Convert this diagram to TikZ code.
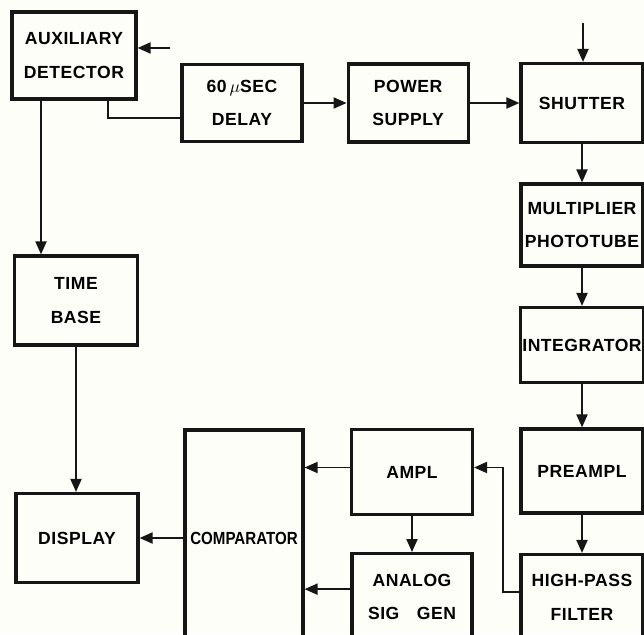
\documentclass[tikz,border=0pt]{standalone}
\usepackage{fontspec}
\setsansfont{Liberation Sans}[LetterSpace=3]
\newfontfamily\narrowsf{Liberation Sans}[FakeStretch=0.86]
\usetikzlibrary{arrows.meta,positioning}
\definecolor{paper}{RGB}{254,254,248}
\definecolor{ink}{RGB}{22,22,22}

\begin{document}
\begin{tikzpicture}[x=0.02cm,y=-0.02cm,
  blk/.style={draw=ink,line width=1.8pt,align=center,inner sep=1pt,
    minimum width=2.44cm,minimum height=1.6cm,
    font=\sffamily\bfseries\fontsize{10}{19}\selectfont},
  a/.style={draw=ink,line width=1.1pt,-{Triangle[length=2.6mm,width=2.2mm]}},
  l/.style={draw=ink,line width=1.1pt}]
  \useasboundingbox (0,0) rectangle (644,634);
  \fill[paper] (0,0) rectangle (644,634);
  \clip (0,0) rectangle (644,634);
  % trigger chain
  \node[blk,minimum width=2.48cm,minimum height=1.74cm] (aux) at (74,55.5) {AUXILIARY\\DETECTOR};
  \node[blk,minimum width=2.4cm,minimum height=1.54cm] (delay) at (242,103) {60\,$\mu$SEC\\DELAY};
  \node[blk,minimum width=2.4cm,minimum height=1.56cm,right=0.86cm of delay] (power) {POWER\\SUPPLY};
  \node[blk,minimum height=1.58cm] (shutter) at (582,103) {SHUTTER};
  % optical channel
  \node[blk,minimum height=1.64cm] (mult) at (582,225) {MULTIPLIER\\PHOTOTUBE};
  \node[blk,minimum height=1.5cm] (integ) at (582,345) {INTEGRATOR};
  \node[blk,minimum height=1.68cm] (preampl) at (582,471) {PREAMPL};
  \node[blk,minimum height=1.72cm] (filter) at (582,597.5) {HIGH-PASS\\FILTER};
  \node[blk,minimum width=2.42cm,minimum height=1.7cm] (ampl) at (412,472) {AMPL};
  \node[blk,minimum width=2.4cm,minimum height=1.72cm,below=0.72cm of ampl] (analog) {ANALOG\\SIG\hspace{0.35cm}GEN};
  % display side
  \node[blk,minimum width=2.36cm,minimum height=4.32cm,font=\narrowsf\bfseries\fontsize{10}{19}\selectfont] (comp) at (244,538) {COMPARATOR};
  \node[blk,minimum height=1.78cm] (display) at (77,538) {DISPLAY};
  \node[blk,minimum width=2.46cm,minimum height=1.78cm] (tb) at (76,300.5) {TIME\\BASE};

  \coordinate (auxin) at (170,48);
  \draw[a] (auxin) -- (auxin -| aux.east);
  \coordinate (auxdn) at ([xshift=-0.66cm]aux.south);
  \draw[a] (auxdn) -- (auxdn |- tb.north);
  \coordinate (auxdl) at ([xshift=0.68cm]aux.south);
  \draw[l] (auxdl) |- ([yshift=-0.3cm]delay.west);
  \draw[a] (delay) -- (power);
  \draw[a] (power) -- (shutter);
  \coordinate (shin) at (583,23);
  \draw[a] (shin) -- (shin |- shutter.north);
  \draw[a] (shutter) -- (mult);
  \draw[a] (mult) -- (integ);
  \draw[a] (integ) -- (preampl);
  \draw[a] (preampl) -- (filter);
  \coordinate (hpout) at ([yshift=0.11cm]filter.west);
  \draw[a] (hpout) -- ++(-16,0) |- ([yshift=0.09cm]ampl.east);
  \draw[a] (ampl) -- (analog);
  \coordinate (amplout) at ([yshift=0.09cm]ampl.west);
  \draw[a] (amplout) -- (amplout -| comp.east);
  \coordinate (sigout) at ([yshift=0.15cm]analog.west);
  \draw[a] (sigout) -- (sigout -| comp.east);
  \draw[a] (comp) -- (display);
  \draw[a] (tb) -- (tb |- display.north);
\end{tikzpicture}
\end{document}
